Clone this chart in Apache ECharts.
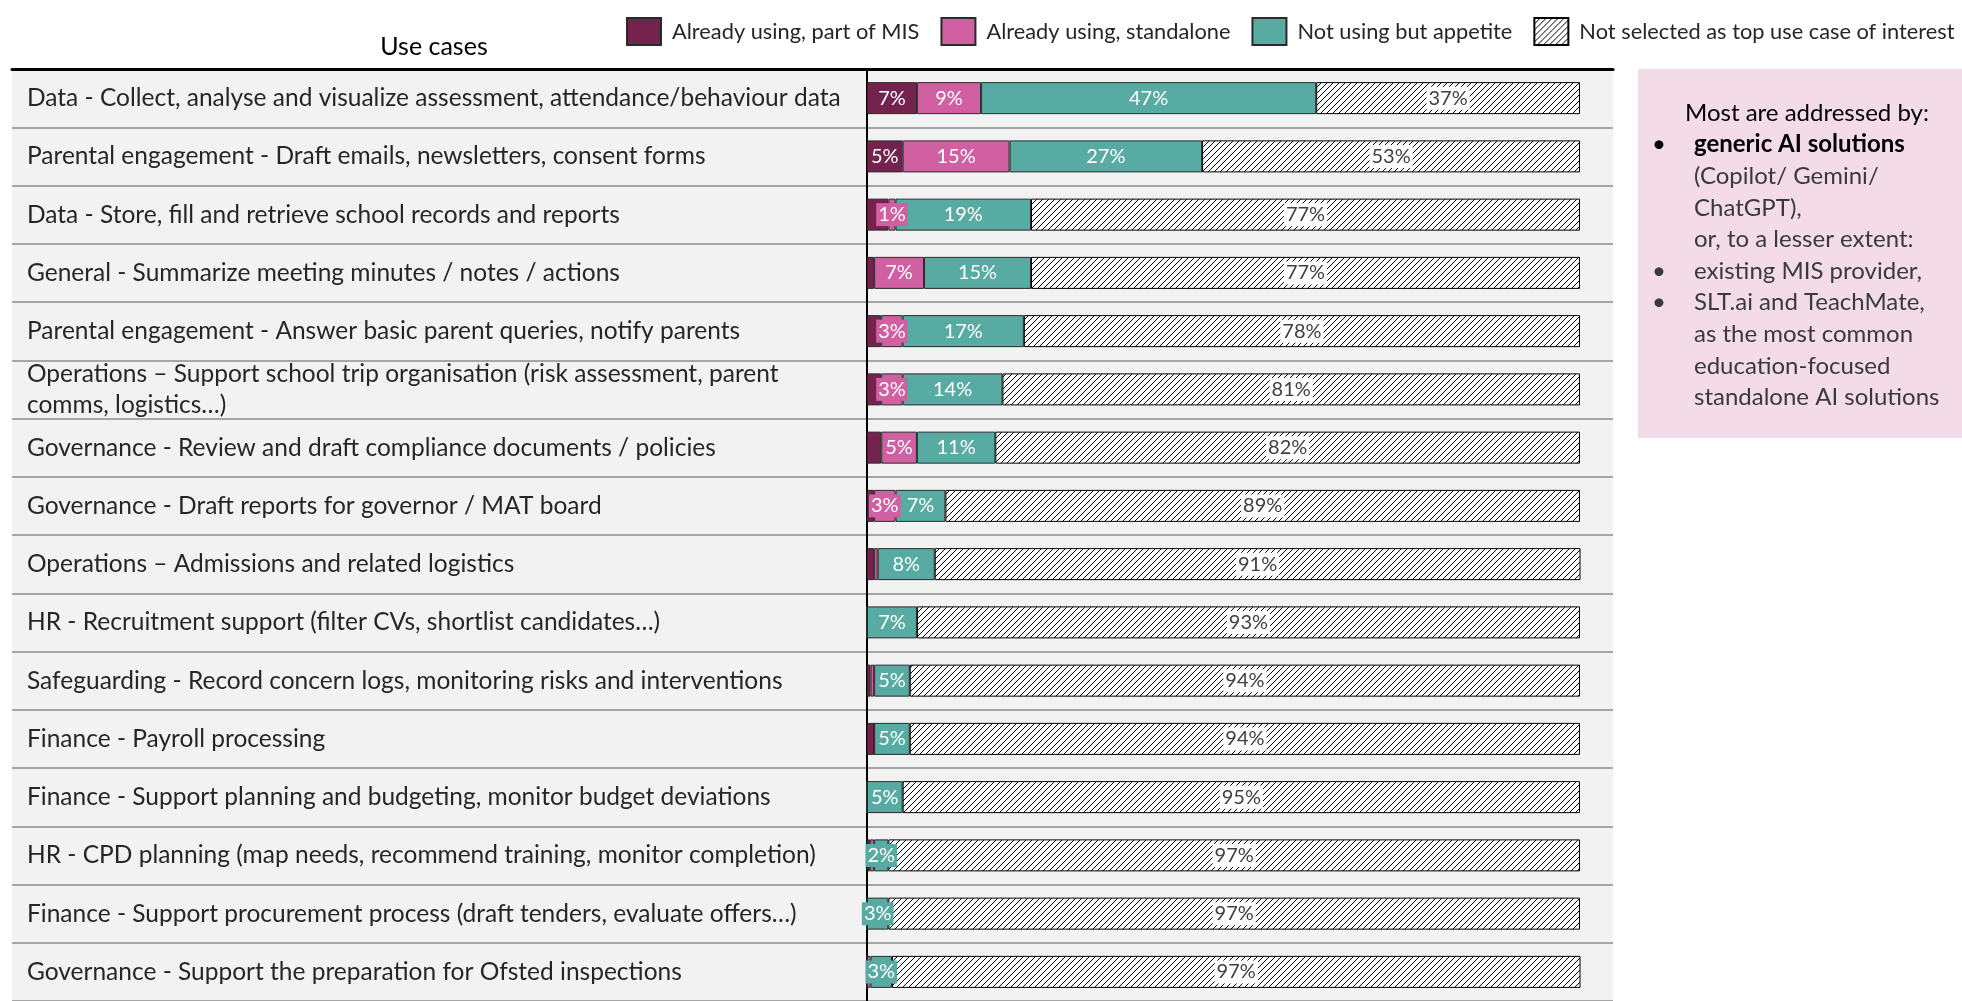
<!DOCTYPE html>
<html>
<head>
<meta charset="utf-8">
<script src="https://cdn.jsdelivr.net/npm/echarts@6/dist/echarts.min.js"></script>
<style>
  html, body { margin: 0; padding: 0; background: #ffffff; }
  #chart { width: 1962px; height: 1001px; }
</style>
</head>
<body>
<div id="chart"></div>
<script>
// Use cases, top to bottom
const useCases = [
  'Data - Collect, analyse and visualize assessment, attendance/behaviour data',
  'Parental engagement - Draft emails, newsletters, consent forms',
  'Data - Store, fill and retrieve school records and reports',
  'General - Summarize meeting minutes / notes / actions',
  'Parental engagement - Answer basic parent queries, notify parents',
  'Operations \u2013 Support school trip organisation (risk assessment, parent\ncomms, logistics\u2026)',
  'Governance - Review and draft compliance documents / policies',
  'Governance - Draft reports for governor / MAT board',
  'Operations \u2013 Admissions and related logistics',
  'HR - Recruitment support (filter CVs, shortlist candidates\u2026)',
  'Safeguarding - Record concern logs, monitoring risks and interventions',
  'Finance - Payroll processing',
  'Finance - Support planning and budgeting, monitor budget deviations',
  'HR - CPD planning (map needs, recommend training, monitor completion)',
  'Finance - Support procurement process (draft tenders, evaluate offers\u2026)',
  'Governance - Support the preparation for Ofsted inspections'
];

const seriesNames = [
  'Already using, part of MIS',
  'Already using, standalone',
  'Not using but appetite',
  'Not selected as top use case of interest'
];

// Share of respondents (%) per use case
const partOfMis   = [7, 5, 3, 1, 2, 2, 2, 1, 1, 0, 0.5, 1, 0, 0.4, 0, 0];
const standalone  = [9, 15, 1, 7, 3, 3, 5, 3, 0.5, 0, 0.5, 0, 0, 0.6, 0, 0.5];
const appetite    = [47, 27, 19, 15, 17, 14, 11, 7, 8, 7, 5, 5, 5, 2, 3, 3];
const notSelected = [37, 53, 77, 77, 78, 81, 82, 89, 91, 93, 94, 94, 95, 97, 97, 97];

const headerText = 'Use cases';
const noteLines = [
  { text: 'Most are addressed by:', kind: 'title' },
  { text: 'generic AI solutions', kind: 'bold', bullet: true },
  { text: '(Copilot/ Gemini/', kind: 'plain' },
  { text: 'ChatGPT),', kind: 'plain' },
  { text: 'or, to a lesser extent:', kind: 'plain' },
  { text: 'existing MIS provider,', kind: 'plain', bullet: true },
  { text: 'SLT.ai and TeachMate,', kind: 'plain', bullet: true },
  { text: 'as the most common', kind: 'plain' },
  { text: 'education-focused', kind: 'plain' },
  { text: 'standalone AI solutions', kind: 'plain' }
];

const FONT = 'Lato, "Open Sans", sans-serif';
const COLORS = ['#74234f', '#d160a2', '#58aba2', '#ffffff'];

// Diagonal "/" hatch used for the not-selected segments
function hatchPattern() {
  const s = 6;
  const c = document.createElement('canvas');
  c.width = s; c.height = s;
  const g = c.getContext('2d');
  g.fillStyle = '#ffffff';
  g.fillRect(0, 0, s, s);
  g.strokeStyle = '#000000';
  g.lineWidth = 1.0;
  [[-s, 0], [0, 0], [s, 0]].forEach(function (o) {
    g.beginPath();
    g.moveTo(o[0] - 1, s + 1);
    g.lineTo(o[0] + s + 1, -1);
    g.stroke();
  });
  return c;
}
const hatch = { image: hatchPattern(), repeat: 'repeat' };

// Per-series label rule: values smaller than this are left unlabelled
const labelMin = [5, 1, 1, 1];
const seriesData = [partOfMis, standalone, appetite, notSelected];

const barSeries = seriesNames.map(function (name, i) {
  const isHatch = i === 3;
  return {
    name: name,
    type: 'bar',
    stack: 'total',
    xAxisIndex: 1,
    yAxisIndex: 1,
    barWidth: 32,
    clip: true,
    itemStyle: {
      color: isHatch ? hatch : COLORS[i],
      borderColor: isHatch ? '#000000' : '#2a2a2a',
      borderWidth: 1
    },
    label: {
      show: true,
      position: 'inside',
      formatter: function (p) { return Math.round(p.value) + '%'; },
      fontFamily: FONT,
      fontSize: 20,
      color: isHatch ? '#404040' : '#ffffff',
      backgroundColor: isHatch ? '#ffffff' : COLORS[i],
      padding: [2, 2, 1, 2]
    },
    emphasis: { disabled: true },
    data: seriesData[i].map(function (v) {
      return { value: v, label: { show: v >= labelMin[i] } };
    })
  };
});

const chart = echarts.init(document.getElementById('chart'), null, { renderer: 'canvas' });

const TOP = 69;
const ROWS_H = 938;

const noteGraphics = [{
  type: 'rect',
  x: 1638, y: 69,
  shape: { width: 330, height: 369 },
  style: { fill: '#f4dbe8' },
  silent: true
}];
noteLines.forEach(function (ln, k) {
  const y = 113 + k * 31.6;
  if (ln.bullet) {
    noteGraphics.push({
      type: 'text', x: 1652, y: y,
      style: { text: '\u2022', font: '24px ' + FONT, fill: ln.kind === 'bold' ? '#000000' : '#3a3a3a', verticalAlign: 'middle' }
    });
  }
  noteGraphics.push({
    type: 'text',
    x: ln.kind === 'title' ? 1685 : 1694,
    y: y,
    style: {
      text: ln.text,
      font: (ln.kind === 'bold' ? 'bold ' : '') + '24px ' + FONT,
      fill: ln.kind === 'plain' ? '#3a3a3a' : '#000000',
      verticalAlign: 'middle'
    }
  });
});

chart.setOption({
  animation: false,
  backgroundColor: '#ffffff',
  legend: {
    left: 621,
    top: 12,
    width: 1600,
    icon: 'rect',
    itemWidth: 34,
    itemHeight: 27,
    itemGap: 21,
    selectedMode: false,
    data: seriesNames,
    textStyle: { fontFamily: FONT, fontSize: 21.8, color: '#262626', padding: [0, 0, 0, 6] }
  },
  grid: [
    // full-width table band behind labels and bars
    { left: 12, width: 1601, top: TOP, height: ROWS_H, show: true, backgroundColor: '#f2f2f2', borderWidth: 0 },
    // bar plotting area
    { left: 867, width: 713, top: TOP, height: ROWS_H }
  ],
  xAxis: [
    {
      gridIndex: 0, type: 'value', position: 'top', min: 0, max: 1,
      axisLine: { show: true, lineStyle: { color: '#000000', width: 3 } },
      axisTick: { show: false }, axisLabel: { show: false }, splitLine: { show: false }
    },
    {
      gridIndex: 1, type: 'value', min: 0, max: 100,
      show: false
    }
  ],
  yAxis: [
    {
      gridIndex: 0, type: 'category', inverse: true, data: useCases,
      axisLine: { show: false }, axisTick: { show: false }, axisLabel: { show: false },
      splitLine: { show: true, lineStyle: { color: '#a6a6a6', width: 2 } }
    },
    {
      gridIndex: 1, type: 'category', inverse: true, data: useCases,
      axisLine: { show: true, onZero: false, lineStyle: { color: '#000000', width: 2 } },
      axisTick: { show: false },
      splitLine: { show: false },
      axisLabel: {
        show: true,
        align: 'left',
        margin: 840,
        fontFamily: FONT,
        fontSize: 24.5,
        lineHeight: 31,
        color: '#262626',
        interval: 0
      }
    }
  ],
  graphic: [
    {
      type: 'text', x: 434, y: 47,
      style: { text: headerText, font: '25px ' + FONT, fill: '#000000', align: 'center', verticalAlign: 'middle' }
    }
  ].concat(noteGraphics),
  series: barSeries
});
</script>
</body>
</html>
